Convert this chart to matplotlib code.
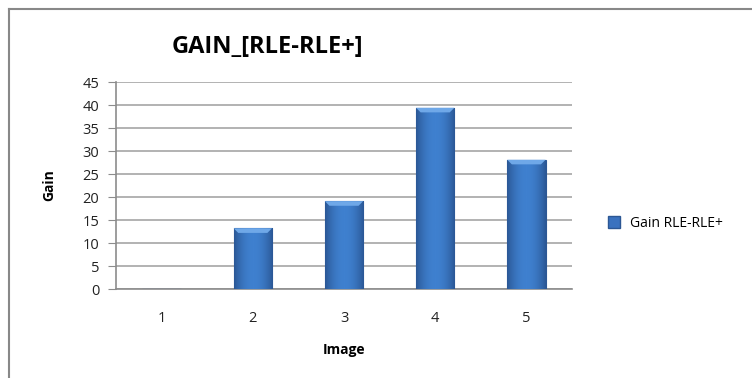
import matplotlib.pyplot as plt
import numpy as np
from matplotlib.lines import Line2D
from matplotlib.colors import LinearSegmentedColormap

images = ['1', '2', '3', '4', '5']
gain = [0, 13.2, 19.1, 39.4, 28.1]
yticks = [0, 5, 10, 15, 20, 25, 30, 35, 40, 45]

plt.rcParams['font.family'] = ['Open Sans', 'DejaVu Sans']

fig = plt.figure(figsize=(7.52, 3.78), dpi=100)
ax = fig.add_axes([0.1543, 0.2354, 0.6063, 0.5476])

x = np.arange(len(images))
bars = ax.bar(x, gain, width=0.42, color='#3a72bf', edgecolor='#2c5794',
              linewidth=0.8, zorder=3, label='Gain RLE-RLE+')

# horizontal shading on each bar, like the spreadsheet gradient
grad = np.linspace(0, 1, 64)
shade = 1 - 0.9 * (2 * grad - 1) ** 2
img = np.tile(shade, (8, 1))
cmap = LinearSegmentedColormap.from_list('b', ['#2b5896', '#3f80cf'])
for b in bars:
    if b.get_height() <= 0:
        continue
    x0, w, h = b.get_x(), b.get_width(), b.get_height()
    im = ax.imshow(img, extent=[x0, x0 + w, 0, h], aspect='auto', cmap=cmap,
                   zorder=4, origin='lower')
    im.set_clip_path(b)
    # light bevel on top
    ax.fill([x0, x0 + w, x0 + w * 0.88, x0 + w * 0.12],
            [h, h, h - 1.0, h - 1.0], color='#6fa8e8', zorder=5, lw=0)

ax.set_xlim(-0.5, 4.5)
ax.set_ylim(0, 45)
ax.set_yticks(yticks)
ax.set_xticks(x)
ax.set_xticklabels(images)
ax.yaxis.grid(True, color='#a6a6a6', linewidth=1.2, zorder=0)
for s in ['top', 'right']:
    ax.spines[s].set_visible(False)
ax.spines['left'].set_color('#8c8c8c')
ax.spines['bottom'].set_color('#8c8c8c')
ax.spines['left'].set_linewidth(1.2)
ax.spines['bottom'].set_linewidth(1.2)
ax.tick_params(axis='y', length=6, color='#8c8c8c', labelsize=10.5, pad=6,
               labelcolor='#222222')
ax.tick_params(axis='x', length=0, labelsize=10.5, pad=16, labelcolor='#222222')

ax.set_xlabel('Image', fontsize=10, fontweight='bold', labelpad=12)
ax.set_ylabel('Gain', fontsize=10, fontweight='bold', labelpad=19)

fig.text(0.355, 0.875, 'GAIN_[RLE-RLE+]', fontsize=17, fontweight='bold',
         ha='center', va='center')

handle = Line2D([], [], marker='s', linestyle='', markersize=8,
                markerfacecolor='#3a72bf', markeredgecolor='#2c5794')
fig.legend([handle], ['Gain RLE-RLE+'], loc='center left',
           bbox_to_anchor=(0.79, 0.41), frameon=False, fontsize=10,
           handletextpad=0.2, borderaxespad=0)

# chart border lines (left and top)
fig.add_artist(Line2D([0.012, 0.012], [0, 0.976], color='#888888', lw=1.5))
fig.add_artist(Line2D([0.012, 1.0], [0.976, 0.976], color='#888888', lw=1.5))

fig.savefig('out.png', dpi=100)
